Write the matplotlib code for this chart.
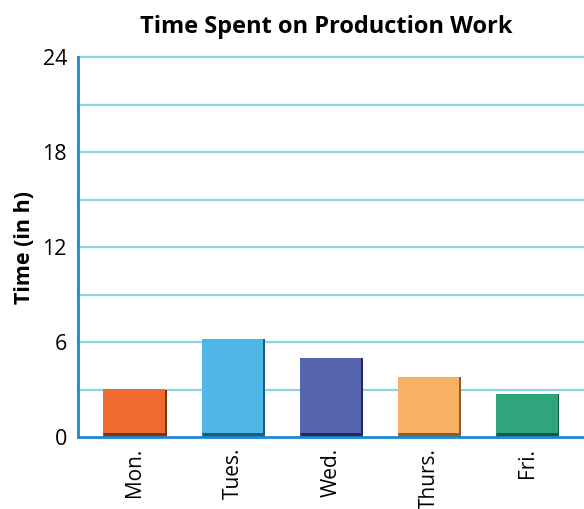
import matplotlib.pyplot as plt
import numpy as np

# hours of production work per weekday
days = ["Mon.", "Tues.", "Wed.", "Thurs.", "Fri."]
hours = [3.0, 6.2, 5.0, 3.8, 2.7]
colors = ["#ee6a2f", "#4fb6e6", "#5465ae", "#f7b163", "#2fa57c"]
shades = ["#7a3416", "#1f5d7a", "#23295a", "#8a5f2a", "#145a42"]
y_ticks = [0, 6, 12, 18, 24]

plt.rcParams['font.family'] = ['Open Sans', 'DejaVu Sans']

fig = plt.figure(figsize=(5.84, 5.09), dpi=100)
ax = fig.add_axes([78 / 584, 1 - 437 / 509, 506 / 584, 380 / 509])

x = np.arange(len(days))
width = 0.64
base = 0.25

# dark shadow behind each bar, then the bar itself with a dark foot
ax.bar(x + 0.01, hours, width=width, color=shades, zorder=3)
ax.bar(x - 0.005, np.array(hours) - base, width=width - 0.01, bottom=base,
       color=colors, zorder=4)
ax.bar(x - 0.005, [base] * len(x), width=width - 0.01, color=shades, zorder=4, alpha=0.85)

ax.set_xlim(-0.58, 4.58)
ax.set_ylim(0, 24)
ax.set_yticks(y_ticks)
ax.set_yticklabels([str(t) for t in y_ticks], fontsize=15.5)

# horizontal rules every 3 hours
for level in np.arange(3, 25, 3):
    ax.axhline(level, color='#8fd0f0', linewidth=1.6, zorder=1, clip_on=False)

ax.set_xticks(x)
ax.set_xticklabels(days, rotation=90, fontsize=15, va='top')
ax.tick_params(axis='both', length=0, pad=8)

for side in ['top', 'right']:
    ax.spines[side].set_visible(False)
for side in ['left', 'bottom']:
    ax.spines[side].set_color('#1e88d0')
    ax.spines[side].set_linewidth(2)
    ax.spines[side].set_zorder(5)

fig.text(24 / 584, 1 - 248 / 509, "Time (in h)", rotation=90,
         ha='center', va='center', fontsize=15.5, fontweight='bold')
fig.text(326 / 584, 1 - 27 / 509, "Time Spent on Production Work",
         ha='center', va='center', fontsize=17, fontweight='bold')

fig.savefig('out.png', dpi=100)
